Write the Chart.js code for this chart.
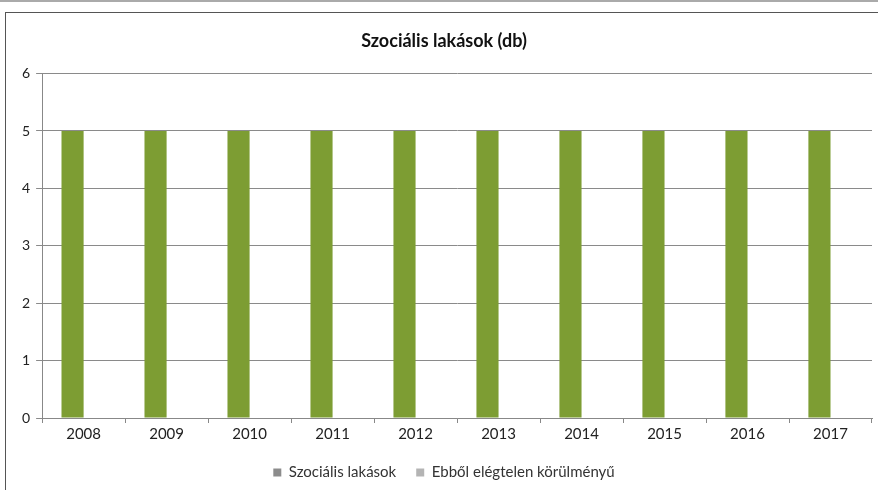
<!DOCTYPE html>
<html>
<head>
<meta charset="utf-8">
<script src="https://cdn.jsdelivr.net/npm/chart.js@4/dist/chart.umd.min.js"></script>
<style>
  body { margin: 0; background: #fff; }
  #wrap { position: relative; width: 878px; height: 490px; }
  #frame { position: absolute; left: 5px; top: 12px; width: 890px; height: 490px; border: 1px solid #555; box-sizing: border-box; }
  #topline { position: absolute; left: 0; top: 0; width: 878px; height: 2px; background: #aaa; }
  canvas { position: absolute; left: 0; top: 0; }
</style>
</head>
<body>
<div id="wrap">
  <div id="topline"></div>
  <div id="frame"></div>
  <canvas id="chart" width="878" height="490"></canvas>
</div>
<script>
const years = ['2008', '2009', '2010', '2011', '2012', '2013', '2014', '2015', '2016', '2017'];
const szocialisLakasok = [5, 5, 5, 5, 5, 5, 5, 5, 5, 5];
const elegtelen = [0, 0, 0, 0, 0, 0, 0, 0, 0, 0];
const seriesNames = ['Szociális lakások', 'Ebből elégtelen körülményű'];
const yTicks = [0, 1, 2, 3, 4, 5, 6];

const fontFamily = 'Lato, "Open Sans", sans-serif';

const ctx = document.getElementById('chart').getContext('2d');
new Chart(ctx, {
  type: 'bar',
  data: {
    labels: years,
    datasets: [
      {
        label: seriesNames[0],
        data: szocialisLakasok,
        backgroundColor: '#7d9d33',
        borderWidth: 0
      },
      {
        label: seriesNames[1],
        data: elegtelen,
        backgroundColor: '#c8d88a',
        borderWidth: 0
      }
    ]
  },
  options: {
    responsive: false,
    animation: false,
    categoryPercentage: 0.533,
    barPercentage: 1,
    layout: { padding: { left: 16, right: 6, top: 4, bottom: 0 } },
    plugins: {
      title: {
        display: true,
        text: 'Szociális lakások (db)',
        color: '#111',
        font: { family: fontFamily, size: 18, weight: 'bold' },
        padding: { top: 26, bottom: 22 }
      },
      legend: {
        position: 'bottom',
        labels: {
          color: '#333',
          boxWidth: 8,
          boxHeight: 8,
          padding: 20,
          font: { family: fontFamily, size: 15 },
          generateLabels: chart => {
            const base = Chart.defaults.plugins.legend.labels.generateLabels(chart);
            const legendColors = ['#8c8c8c', '#b4b4b4'];
            base.forEach((l, i) => { l.fillStyle = legendColors[i]; l.strokeStyle = legendColors[i]; l.lineWidth = 0; });
            return base;
          }
        }
      },
      tooltip: { enabled: false }
    },
    scales: {
      x: {
        grid: { drawOnChartArea: false, drawTicks: true, tickLength: 5, color: '#888' },
        border: { color: '#888' },
        ticks: { color: '#222', font: { family: fontFamily, size: 15 }, padding: 2 }
      },
      y: {
        min: 0,
        max: 6,
        afterBuildTicks: axis => { axis.ticks = yTicks.map(v => ({ value: v })); },
        grid: { color: '#8a8a8a', lineWidth: 1, tickLength: 6 },
        border: { color: '#888' },
        ticks: { color: '#222', font: { family: fontFamily, size: 14 }, padding: 6 }
      }
    }
  }
});
</script>
</body>
</html>
